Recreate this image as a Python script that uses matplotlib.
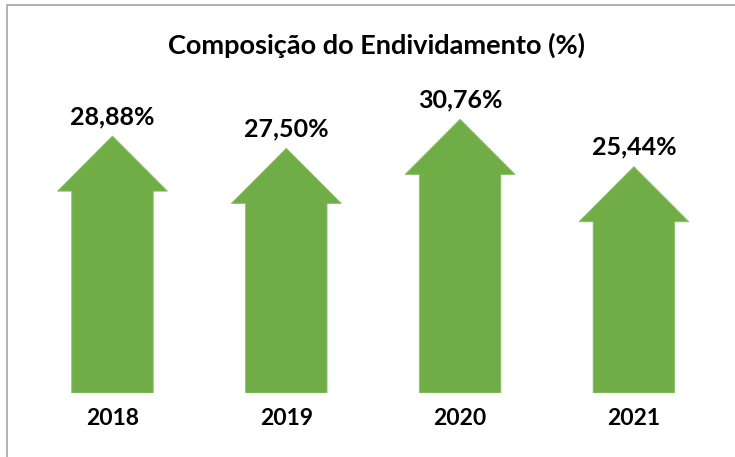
import matplotlib.pyplot as plt
from matplotlib.patches import FancyArrow, Rectangle

# dados
anos = ['2018', '2019', '2020', '2021']
valores = [28.88, 27.50, 30.76, 25.44]
rotulos = [f"{v:.2f}".replace('.', ',') + '%' for v in valores]

plt.rcParams['font.family'] = ['Lato', 'DejaVu Sans']

fig = plt.figure(figsize=(7.35, 4.57), dpi=100)
ax = fig.add_axes([0.0348, 0.140, 0.9459, 0.6816])

verde = '#70AD47'
for i, v in enumerate(valores):
    seta = FancyArrow(i, 0, 0, v, width=0.469, head_width=0.633, head_length=6.2,
                      length_includes_head=True, facecolor=verde,
                      edgecolor='#8cc46a', linewidth=0.6)
    ax.add_patch(seta)
    ax.text(i, v + 1.35, rotulos[i], ha='center', va='baseline',
            fontsize=18, fontweight='bold', color='black')

ax.set_xlim(-0.5, 3.5)
ax.set_ylim(0, 35)
ax.set_xticks(range(len(anos)))
ax.set_xticklabels(anos, fontsize=16.5, fontweight='bold')
ax.tick_params(axis='x', length=0, pad=11)
ax.set_yticks([])
for s in ax.spines.values():
    s.set_visible(False)

fig.text(0.5116, 1 - 53.3 / 457, 'Composição do Endividamento (%)', ha='center',
         va='baseline', fontsize=19.5, fontweight='bold')

# moldura
fig.add_artist(Rectangle((7 / 735, -0.1), 1.2, 1.1 - 5 / 457, transform=fig.transFigure,
                         fill=False, edgecolor='#a6a6a6', linewidth=1.2))

fig.savefig('out.png', dpi=100)
